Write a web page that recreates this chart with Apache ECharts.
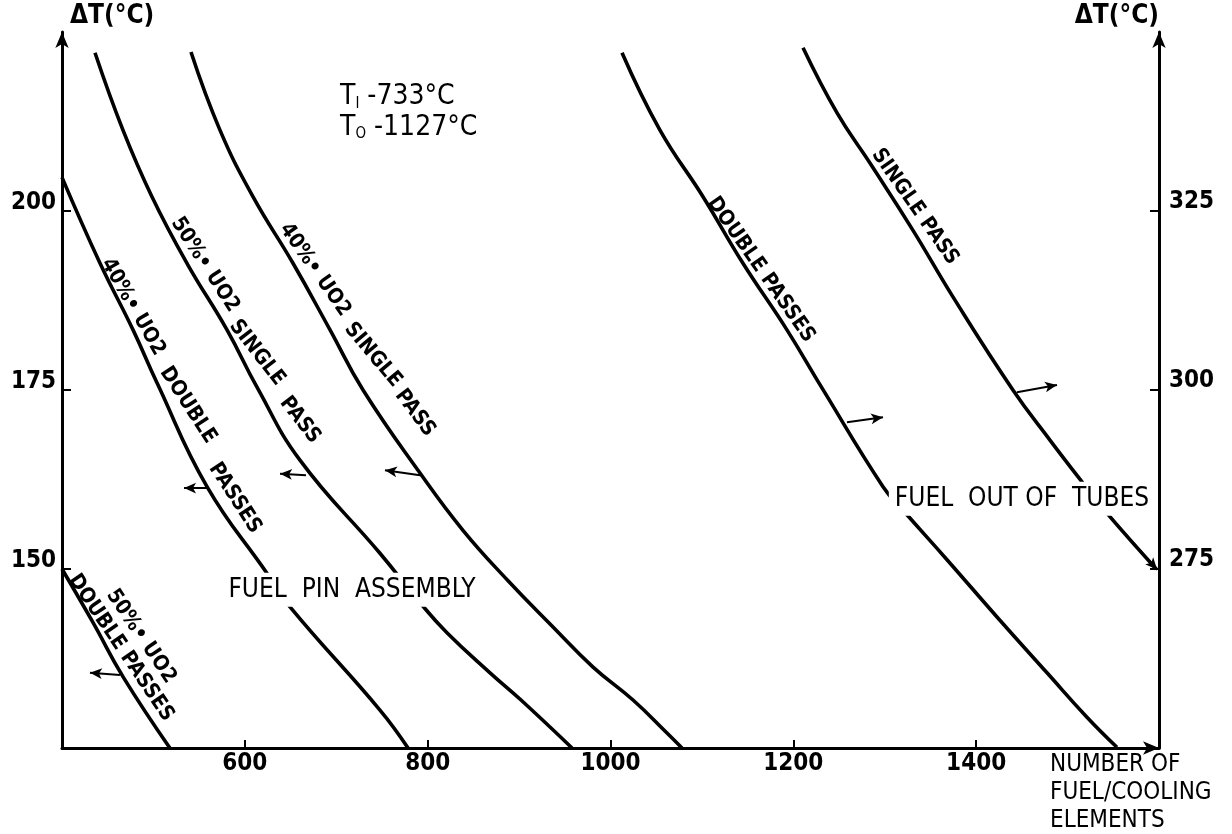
<!DOCTYPE html>
<html><head><meta charset="utf-8">
<script src="https://cdn.jsdelivr.net/npm/echarts@6/dist/echarts.min.js"></script>
<style>html,body{margin:0;padding:0;background:#fff}#c{width:1232px;height:834px}</style>
</head><body><div id="c"></div>
<script>
// ---------- data ----------
const xTickValues = [600, 800, 1000, 1200, 1400];
const leftTickValues = [150, 175, 200];
const rightTickValues = [275, 300, 325];

// left scale curves (ΔT, °C)
const uo2_50_double_x = [400, 434, 467, 518];
const uo2_50_double_y = [150, 142.5, 134.9, 125];

const uo2_40_double_x = [400, 441.6, 477.7, 503.9, 558.6, 624.2, 649.4, 747.8, 778.5];
const uo2_40_double_y = [204.7, 192.7, 183.4, 176.0, 161.5, 149.4, 144.7, 130.3, 125];

const uo2_50_single_x = [436.1, 466.7, 498.4, 536.7, 580.5, 613.3, 660.3, 747.8, 791.6, 821.1, 868.2, 902.1, 957.9];
const uo2_50_single_y = [222.1, 211.3, 202.0, 192.7, 183.4, 175.4, 165.2, 152.2, 145.3, 141.1, 135.5, 131.7, 125];

const uo2_40_single_x = [541.1, 572.8, 608.9, 652.7, 693.2, 729.3, 791.6, 838.6, 886.9, 937.1, 980.9, 1024.6, 1061.8, 1078.2];
const uo2_40_single_y = [222.2, 211.3, 202.0, 192.7, 183.4, 175.0, 163.4, 155.4, 148.5, 141.9, 136.3, 131.7, 127.1, 125];

// right scale curves (ΔT, °C) - fuel out of tubes
const tubes_double_x = [1012.6, 1054.1, 1101.2, 1144.9, 1193.0, 1231.3, 1298.1, 1320.0, 1368.1, 1422.8, 1477.5, 1521.2, 1554.0];
const tubes_double_y = [347.1, 336.3, 327.0, 317.7, 308.4, 300.3, 286.5, 283.2, 276.3, 268.3, 260.5, 254.3, 250.1];

const tubes_single_x = [1210.6, 1247.8, 1283.8, 1330.9, 1374.6, 1440.2, 1480.7, 1516.8, 1543.0, 1597.0];
const tubes_single_y = [347.8, 338.7, 331.7, 322.3, 313.0, 300.0, 293.0, 287.0, 282.8, 275.0];

// ---------- chart ----------
const FONT = '"Liberation Sans Narrow","DejaVu Sans Condensed","Liberation Sans",sans-serif';
const zip = (xs, ys) => xs.map((x, i) => [x, ys[i]]);
const chart = echarts.init(document.getElementById('c'), null, {renderer: 'canvas'});

function arrows(list) {
  return {
    silent: true,
    symbol: ['none', 'arrow'],
    symbolSize: [8, 12],
    label: {show: false},
    emphasis: {disabled: true},
    animation: false,
    lineStyle: {color: '#000', width: 2, type: 'solid'},
    data: list.map(a => [
      {coord: a[0], lineStyle: {curveness: a[2] || 0}},
      {coord: a[1], lineStyle: {curveness: a[2] || 0}}
    ])
  };
}

function curve(name, xs, ys, yAxisIndex, arrowList) {
  return {
    type: 'line', name, yAxisIndex,
    data: zip(xs, ys),
    smooth: 0.45,
    showSymbol: false, symbol: 'none',
    lineStyle: {color: '#000', width: 3.6},
    z: 3, animation: false, silent: true,
    markLine: arrows(arrowList)
  };
}

const axisLineStyle = {color: '#000', width: 3};
const labelStyle = {color: '#000', fontSize: 24, fontFamily: FONT, fontWeight: 'bold'};
const plain = v => String(v);

chart.setOption({
  animation: false,
  backgroundColor: '#fff',
  grid: {left: 62, right: 73, top: 32, bottom: 86, containLabel: false},
  xAxis: {
    type: 'value', min: 400, max: 1600, interval: 200,
    axisLine: {show: true, onZero: false, lineStyle: axisLineStyle, symbol: ['none', 'arrow'], symbolSize: [10, 16]},
    axisTick: {show: true, inside: true, length: 8, lineStyle: {color: '#000', width: 2}, customValues: xTickValues},
    axisLabel: Object.assign({customValues: xTickValues, margin: 4, formatter: plain}, labelStyle),
    splitLine: {show: false}
  },
  yAxis: [{
    type: 'value', position: 'left', min: 125, max: 225, interval: 25,
    axisLine: {show: true, onZero: false, lineStyle: axisLineStyle, symbol: ['none', 'arrow'], symbolSize: [10, 16]},
    axisTick: {show: true, inside: true, length: 9, lineStyle: {color: '#000', width: 2}, customValues: leftTickValues},
    axisLabel: Object.assign({customValues: leftTickValues, margin: 6, verticalAlign: 'bottom', lineHeight: 16, formatter: plain}, labelStyle),
    splitLine: {show: false},
    name: 'ΔT(°C)', nameLocation: 'end', nameGap: 16,
    nameTextStyle: {color: '#000', fontSize: 26, fontFamily: FONT, fontWeight: 'bold', align: 'left', verticalAlign: 'middle', padding: [0, 0, 0, 8]}
  }, {
    type: 'value', position: 'right', min: 250, max: 350, interval: 25,
    axisLine: {show: true, onZero: false, lineStyle: axisLineStyle, symbol: ['none', 'arrow'], symbolSize: [10, 16]},
    axisTick: {show: true, inside: true, length: 9, lineStyle: {color: '#000', width: 2}, customValues: rightTickValues},
    axisLabel: Object.assign({customValues: rightTickValues, margin: 10, verticalAlign: 'bottom', lineHeight: 18, formatter: plain}, labelStyle),
    splitLine: {show: false},
    name: 'ΔT(°C)', nameLocation: 'end', nameGap: 16,
    nameTextStyle: {color: '#000', fontSize: 26, fontFamily: FONT, fontWeight: 'bold', align: 'right', verticalAlign: 'middle'}
  }],
  series: [
    curve('50% UO2 double passes', uo2_50_double_x, uo2_50_double_y, 0, [[[463.4, 135.2], [430.6, 135.5], 0.15]]),
    curve('40% UO2 double passes', uo2_40_double_x, uo2_40_double_y, 0, [[[560.8, 161.3], [533.5, 161.3], 0.15]]),
    curve('50% UO2 single pass', uo2_50_single_x, uo2_50_single_y, 0, [[[666.9, 163.1], [638.5, 163.3], 0.15]]),
    curve('40% UO2 single pass', uo2_40_single_x, uo2_40_single_y, 0, [[[791.6, 163.1], [753.3, 163.8], 0.2]]),
    curve('Double passes (fuel out of tubes)', tubes_double_x, tubes_double_y, 1, [[[1258.7, 295.5], [1298.1, 296.2], -0.3]]),
    curve('Single pass (fuel out of tubes)', tubes_single_x, tubes_single_y, 1, [[[1444.6, 299.7], [1488.4, 300.7], -0.3], [[1543.0, 282.8], [1598.0, 274.9], 0]])
  ]
});

// ---------- text annotations (placed in data coordinates) ----------
const curveLabels = [
  // [text, yAxisIndex, [x, y], rotation deg (clockwise)]
  ['DOUBLE PASSES', 0, [464.5, 139.0], 56],
  ['50%• UO2', 0, [486.4, 140.6], 56],
  ['40%• UO2', 0, [477.7, 186.6], 60],
  ['DOUBLE', 0, [537.8, 172.9], 57],
  ['PASSES', 0, [589.2, 159.9], 57],
  ['50%• UO2', 0, [556.4, 192.5], 57],
  ['SINGLE', 0, [613.3, 180.2], 52],
  ['PASS', 0, [660.3, 170.8], 52],
  ['40%• UO2', 0, [676.7, 191.8], 55],
  ['SINGLE', 0, [740.2, 179.9], 50],
  ['PASS', 0, [786.1, 171.8], 53],
  ['DOUBLE PASSES', 1, [1164.6, 316.8], 55],
  ['SINGLE PASS', 1, [1333.1, 325.6], 55]
];
const boxLabels = [
  ['FUEL  PIN  ASSEMBLY', 0, [717.2, 147.1]],
  ['FUEL  OUT OF  TUBES', 1, [1450.1, 284.8]]
];
const tempNotes = [
  ['I', ' -733°C', [704.1, 215.9]],
  ['O', ' -1127°C', [704.1, 211.6]]
];

const px = (axis, pt) => chart.convertToPixel({xAxisIndex: 0, yAxisIndex: axis}, pt);
const graphics = [];
curveLabels.forEach(([t, ax, pt, rot]) => {
  const p = px(ax, pt);
  graphics.push({
    type: 'text', x: p[0], y: p[1], rotation: -rot * Math.PI / 180, z: 50, silent: true,
    style: {text: t, fill: '#000', fontSize: 21, fontFamily: FONT, fontWeight: 'bold', align: 'center', verticalAlign: 'middle'}
  });
});
boxLabels.forEach(([t, ax, pt]) => {
  const p = px(ax, pt);
  graphics.push({
    type: 'text', x: p[0], y: p[1], z: 50, silent: true,
    style: {text: t, fill: '#000', fontSize: 26, fontFamily: FONT, align: 'center', verticalAlign: 'middle',
      backgroundColor: '#fff', padding: [4, 6]}
  });
});
tempNotes.forEach(([sub, rest, pt]) => {
  const p = px(0, pt);
  graphics.push({
    type: 'text', x: p[0], y: p[1], z: 50, silent: true,
    style: {
      text: '{m|T}{s|' + sub + '}{m|' + rest + '}',
      fill: '#000', align: 'left', verticalAlign: 'middle',
      rich: {
        m: {fontSize: 28, fontFamily: FONT, fill: '#000', lineHeight: 28, verticalAlign: 'bottom'},
        s: {fontSize: 15, fontFamily: FONT, fill: '#000', lineHeight: 22, verticalAlign: 'bottom'}
      }
    }
  });
});
graphics.push({
  type: 'text', left: 1050, top: 751, z: 50, silent: true,
  style: {text: 'NUMBER OF\nFUEL/COOLING\nELEMENTS', fill: '#000', fontSize: 24, fontFamily: FONT, lineHeight: 28}
});
chart.setOption({graphic: graphics});
</script>
</body></html>
